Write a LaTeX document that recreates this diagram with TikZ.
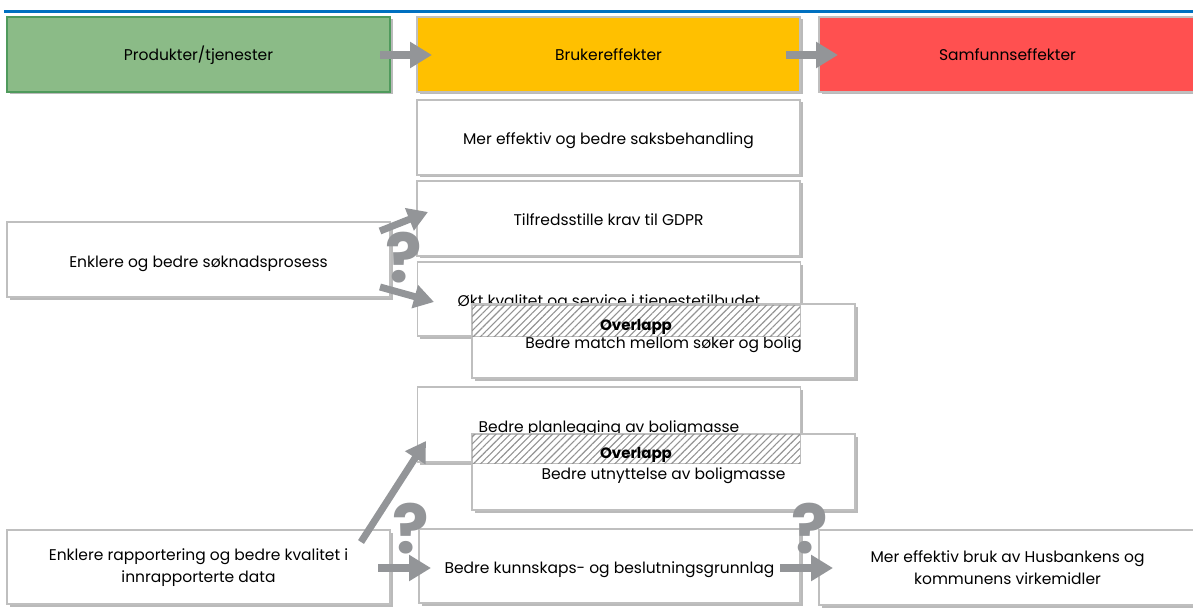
\documentclass[tikz,border=0pt]{standalone}
\usepackage{fontspec}
\setmainfont{Poppins}
\usetikzlibrary{arrows.meta,shadows,patterns.meta}
\definecolor{hdrgreen}{HTML}{8BBB87}
\definecolor{hdrgreenline}{HTML}{4F9A5C}
\definecolor{hdryellow}{HTML}{FFC000}
\definecolor{hdrred}{HTML}{FF5050}
\definecolor{boxline}{HTML}{BFBFBF}
\definecolor{arrowgray}{HTML}{939598}
\definecolor{rule}{HTML}{0070C0}
\tikzset{
  basebox/.style={rectangle, minimum width=383pt, minimum height=75pt, inner sep=0pt,
    align=center, font=\fontsize{15.5}{22}\selectfont, text=black,
    drop shadow={shadow xshift=2.5pt, shadow yshift=-2.5pt, fill=black!45, opacity=.6}},
  oneline/.style={text height=15pt, text depth=0pt},
  headline/.style={text height=12pt, text depth=0pt},
  whitebox/.style={basebox, fill=white, draw=boxline, line width=1.2pt},
  tbox/.style={whitebox, oneline},
  hgreen/.style={basebox, headline, fill=hdrgreen, draw=hdrgreenline, line width=1.2pt},
  hyellow/.style={basebox, headline, fill=hdryellow, draw=boxline, line width=1.2pt},
  hred/.style={basebox, headline, fill=hdrred, draw=boxline, line width=1.2pt},
  overlap/.style={rectangle, inner sep=0pt, draw=boxline, line width=1pt, fill=white,
    postaction={pattern={Lines[angle=45,distance=5pt,line width=1.1pt]}, pattern color=gray!85}},
  ovtext/.style={font=\fontsize{15}{18}\bfseries\selectfont, inner sep=0pt},
  bigarrow/.style={draw=arrowgray, line width=8pt, -{Triangle[length=22pt,width=25pt]}, color=arrowgray},
  qmark/.style={text=arrowgray, font=\fontsize{68}{68}\bfseries\selectfont, inner sep=0pt},
}
\begin{document}
\begin{tikzpicture}[x=1pt,y=-1pt]
\useasboundingbox (0,0) rectangle (1193,612);
\fill[white] (0,0) rectangle (1193,612);
% top rule
\fill[rule] (4,10) rectangle (1193,13.5);
% header row
\node[hgreen] (prod) at (198.5,54.5) {Produkter/tjenester};
\node[hyellow] (bruk) at (608.5,54.5) {Brukereffekter};
\node[hred, minimum width=377pt] (samf) at (1007.5,54.5) {Samfunnseffekter};
% user effects column
\node[tbox] (saks) at (608.5,137.5) {Mer effektiv og bedre saksbehandling};
\node[tbox] (gdpr) at (608.5,218.5) {Tilfredsstille krav til GDPR};
\node[tbox, minimum height=74pt] (okt) at (609,299) {Økt kvalitet og service i tjenestetilbudet};
\node[tbox, minimum height=74pt] (match) at (663.5,341) {Bedre match mellom søker og bolig};
\node[overlap, minimum width=328pt, minimum height=31pt] (ov1) at (636,320.5) {};
\node[ovtext] (ov1t) at (636,327) {Overlapp};
\node[tbox] (plan) at (609,424.5) {Bedre planlegging av boligmasse};
\node[tbox, minimum height=76pt] (utn) at (663.5,472) {Bedre utnyttelse av boligmasse};
\node[overlap, minimum width=328pt, minimum height=29pt] (ov2) at (636,448.5) {};
\node[ovtext] (ov2t) at (636,455) {Overlapp};
% left column
\node[tbox] (sok) at (198.5,259.5) {Enklere og bedre søknadsprosess};
\node[whitebox, minimum height=74pt] (rapp) at (198.5,567) {\rule{0pt}{14pt}Enklere rapportering og bedre kvalitet i\\innrapporterte data};
\node[tbox, minimum width=381pt, minimum height=74pt] (kunn) at (609.5,566) {Bedre kunnskaps- og beslutningsgrunnlag};
\node[whitebox, minimum width=377pt] (mer) at (1007.5,567.5) {Mer effektiv bruk av Husbankens og\\kommunens virkemidler};
% question marks
\node[qmark] (q1) at (404,258) {?};
\node[qmark] (q2) at (411,529) {?};
\node[qmark] (q3) at (810,529) {?};
% connector end coordinates
\coordinate (a1s) at (380,55);
\coordinate (a1e) at (432,55);
\coordinate (a2s) at (786,55);
\coordinate (a2e) at (838,55);
\coordinate (a3s) at (380,231);
\coordinate (a3e) at (428,212);
\coordinate (a4s) at (380,287);
\coordinate (a4e) at (434,302);
\coordinate (a5s) at (361,542);
\coordinate (a5e) at (426,441);
\coordinate (a6s) at (378,568);
\coordinate (a6e) at (431,568);
\coordinate (a7s) at (780,568);
\coordinate (a7e) at (833,568);
% arrows
\draw[bigarrow] (a1s) -- (a1e);
\draw[bigarrow] (a2s) -- (a2e);
\draw[bigarrow, line width=7pt, -{Triangle[length=20pt,width=23pt]}] (a3s) -- (a3e);
\draw[bigarrow, line width=7pt, -{Triangle[length=20pt,width=23pt]}] (a4s) -- (a4e);
\draw[bigarrow, line width=7pt, -{Triangle[length=20pt,width=23pt]}] (a5s) -- (a5e);
\draw[bigarrow] (a6s) -- (a6e);
\draw[bigarrow] (a7s) -- (a7e);
\end{tikzpicture}
\end{document}
